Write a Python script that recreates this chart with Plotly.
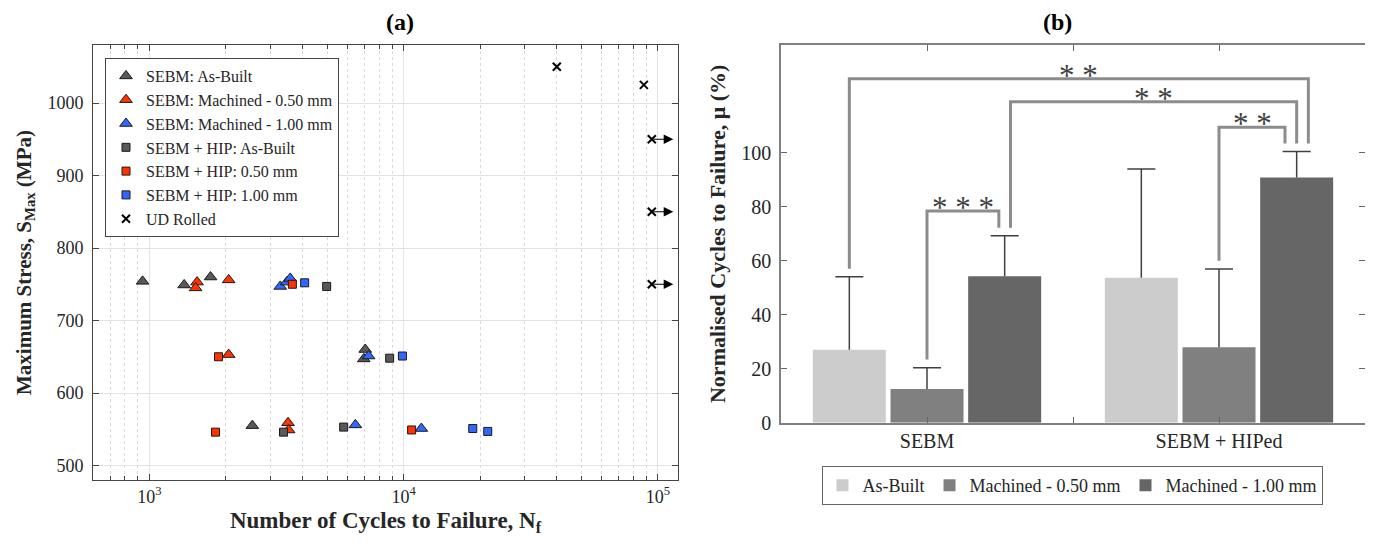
import numpy as np
import plotly.graph_objects as go

# ---------------- Panel (a) data: cycles to failure vs max stress ----------------
sebm_ab_n = [940, 1370, 1740, 7060, 6970, 2540]
sebm_ab_s = [754, 749, 760, 660, 647, 555]
sebm_050_n = [1540, 1520, 2050, 2050, 3510, 3530]
sebm_050_s = [753, 745, 756, 653, 559, 549]
sebm_100_n = [3270, 3470, 3580, 7280, 6460, 11740]
sebm_100_s = [747, 753, 758, 651, 556, 551]
hip_ab_n = [4980, 8810, 3370, 5810]
hip_ab_s = [747, 648, 546, 553]
hip_050_n = [3650, 1870, 1820, 10750]
hip_050_s = [750, 650, 546, 549]
hip_100_n = [4080, 9890, 18700, 21420]
hip_100_s = [752, 651, 551, 547]
ud_n = [40030, 88080, 94650, 94650, 94650]
ud_s = [1050, 1025, 950, 850, 750]
ud_runout = [False, False, True, True, True]
runout_arrow_end = 115000

x_tick_vals = [1e3, 1e4, 1e5]
x_tick_text = ["10<sup>3</sup>", "10<sup>4</sup>", "10<sup>5</sup>"]
y_tick_vals_a = [500, 600, 700, 800, 900, 1000]

# ---------------- Panel (b) data: normalised cycles to failure ----------------
groups = ["SEBM", "SEBM + HIPed"]
conditions = ["As-Built", "Machined - 0.50 mm", "Machined - 1.00 mm"]
means = {
    "As-Built": [27.0, 53.7],
    "Machined - 0.50 mm": [12.5, 28.0],
    "Machined - 1.00 mm": [54.3, 90.9],
}
err_up = {
    "As-Built": [27.1, 40.3],
    "Machined - 0.50 mm": [7.9, 29.0],
    "Machined - 1.00 mm": [15.0, 9.6],
}
bar_colors = ["#cccccc", "#808080", "#666666"]
# significance brackets: (group, cond, x-offset) -> (group, cond, x-offset), line height, label
brackets = [
    ((0, 0, 0.0), (1, 2, 0.04), 127.5, "* *"),
    ((0, 2, 0.02), (1, 2, 0.0), 119.0, "* *"),
    ((0, 1, 0.0), (0, 2, -0.02), 78.5, "* * *"),
    ((1, 1, 0.0), (1, 2, -0.04), 109.5, "* *"),
]

FONT = "Liberation Serif"
AX = "#262626"

# page offset (body margin) compensation
OFF = 8
W, H = 1373 - OFF, 551 - OFF

def px(v):
    return (v - OFF) / W

def py(v):
    return 1 - (v - OFF) / H

fig = go.Figure()

def add_a(name, n, s, symbol, color, size, lw=1, lcolor="#1a1a1a"):
    fig.add_trace(go.Scatter(
        x=n, y=s, mode="markers", name=name,
        marker=dict(symbol=symbol, color=color, size=size,
                    line=dict(color=lcolor, width=lw)),
        xaxis="x", yaxis="y", legend="legend"))

add_a("SEBM: As-Built", sebm_ab_n, sebm_ab_s, "triangle-up", "#595959", 11)
add_a("SEBM: Machined - 0.50 mm", sebm_050_n, sebm_050_s, "triangle-up", "#ff3300", 11)
add_a("SEBM: Machined - 1.00 mm", sebm_100_n, sebm_100_s, "triangle-up", "#3366ff", 11)
add_a("SEBM + HIP: As-Built", hip_ab_n, hip_ab_s, "square", "#595959", 8)
add_a("SEBM + HIP: 0.50 mm", hip_050_n, hip_050_s, "square", "#ff3300", 8)
add_a("SEBM + HIP: 1.00 mm", hip_100_n, hip_100_s, "square", "#3366ff", 8)
fig.add_trace(go.Scatter(
    x=ud_n, y=ud_s, mode="markers", name="UD Rolled",
    marker=dict(symbol="x-thin", size=8, color="black", line=dict(color="black", width=2)),
    xaxis="x", yaxis="y", legend="legend"))

annotations = []
for n, s, ro in zip(ud_n, ud_s, ud_runout):
    if ro:
        annotations.append(dict(
            x=np.log10(runout_arrow_end), y=s, xref="x", yref="y",
            ax=np.log10(n), ay=s, axref="x", ayref="y",
            showarrow=True, arrowhead=2, arrowsize=1.6, arrowwidth=1.2,
            arrowcolor="black", text=""))

# ---------------- Panel (b) traces ----------------
spacing = 0.266
bar_w = 0.25
gx = np.arange(1, len(groups) + 1)

def bar_x(g, k, off=0.0):
    return gx[g] + (k - 1) * spacing + off

for k, cond in enumerate(conditions):
    xs = [bar_x(g, k) for g in range(len(groups))]
    fig.add_trace(go.Bar(
        x=xs, y=means[cond], width=bar_w, name=cond,
        marker=dict(color=bar_colors[k], line=dict(width=0)),
        xaxis="x2", yaxis="y2", legend="legend2"))

# error bars (upper only)
cap = 0.048
ex, ey = [], []
for k, cond in enumerate(conditions):
    for g in range(len(groups)):
        xc = bar_x(g, k)
        top = means[cond][g] + err_up[cond][g]
        ex += [xc, xc, None, xc - cap, xc + cap, None]
        ey += [means[cond][g], top, None, top, top, None]
fig.add_trace(go.Scatter(x=ex, y=ey, mode="lines", line=dict(color="#404040", width=1.5),
                         showlegend=False, xaxis="x2", yaxis="y2", hoverinfo="skip"))

# brackets
gap = 3.0
bx, by = [], []
for (g0, k0, o0), (g1, k1, o1), h, lab in brackets:
    x0 = bar_x(g0, k0, o0)
    x1 = bar_x(g1, k1, o1)
    y0 = means[conditions[k0]][g0] + err_up[conditions[k0]][g0] + gap
    y1 = means[conditions[k1]][g1] + err_up[conditions[k1]][g1] + gap
    bx += [x0, x0, x1, x1, None]
    by += [y0, h, h, y1, None]
    annotations.append(dict(x=(x0 + x1) / 2, y=h, xref="x2", yref="y2", text=lab,
                            showarrow=False, yanchor="bottom", yshift=-16,
                            font=dict(family=FONT, size=31, color="#404040")))
fig.add_trace(go.Scatter(x=bx, y=by, mode="lines", line=dict(color="#8c8c8c", width=3),
                         showlegend=False, xaxis="x2", yaxis="y2", hoverinfo="skip"))

# titles
annotations.append(dict(text="<b>(a)</b>", x=px(385), y=1, xref="paper", yref="paper",
                        yanchor="top", showarrow=False, borderpad=0,
                        font=dict(family=FONT, size=24, color="black")))
annotations.append(dict(text="<b>(b)</b>", x=px(1073), y=1, xref="paper", yref="paper",
                        yanchor="top", showarrow=False, borderpad=0,
                        font=dict(family=FONT, size=24, color="black")))

fig.update_layout(
    width=W, height=H,
    margin=dict(l=0, r=0, t=0, b=0, pad=0),
    paper_bgcolor="white", plot_bgcolor="white",
    font=dict(family=FONT, size=18, color=AX),
    showlegend=True,
    annotations=annotations,
    xaxis=dict(
        type="log", domain=[px(93), px(678)], range=[np.log10(600), np.log10(120000)],
        tickvals=x_tick_vals, ticktext=x_tick_text, ticks="inside", ticklen=6,
        showline=True, linecolor="#444", linewidth=1, mirror="ticks",
        showgrid=True, gridcolor="#e3e3e3", gridwidth=1, zeroline=False,
        minor=dict(ticks="inside", ticklen=4, dtick="D1", showgrid=True,
                   gridcolor="#d9d9d9", griddash="dot", tickcolor="#444"),
        tickfont=dict(size=18),
        title=dict(text="<b>Number of Cycles to Failure, N<sub>f</sub></b>",
                   font=dict(size=23, color=AX), standoff=6),
        anchor="y", automargin=False,
    ),
    yaxis=dict(
        domain=[py(480), py(45)], range=[480, 1080],
        tickvals=y_tick_vals_a, ticks="inside", ticklen=6, ticklabelstandoff=5,
        showline=True, linecolor="#444", linewidth=1, mirror="ticks",
        showgrid=True, gridcolor="#e3e3e3", zeroline=False,
        tickfont=dict(size=18),
        title=dict(text="<b>Maximum Stress, S<sub>Max</sub> (MPa)</b>",
                   font=dict(size=21, color=AX), standoff=10),
        anchor="x", automargin=False,
    ),
    xaxis2=dict(
        domain=[px(781), px(1365)], range=[0.5, 2.5],
        tickvals=[1, 1.5, 2], ticktext=["SEBM", "", "SEBM + HIPed"],
        ticks="inside", ticklen=6, tickcolor="#666",
        showline=True, linecolor="#808080", linewidth=1.5, mirror="ticks",
        showgrid=False, zeroline=False, tickfont=dict(size=20),
        anchor="y2", automargin=False,
    ),
    yaxis2=dict(
        domain=[py(422.7), py(45)], range=[0, 140],
        tickvals=[0, 20, 40, 60, 80, 100], ticks="inside", ticklen=6, tickcolor="#666",
        ticklabelstandoff=4,
        showline=True, linecolor="#808080", linewidth=1.5, mirror="ticks",
        showgrid=False, zeroline=False, tickfont=dict(size=20),
        title=dict(text="<b>Normalised Cycles to Failure, μ (%)</b>",
                   font=dict(size=22, color=AX), standoff=10),
        anchor="x2", automargin=False,
    ),
    legend=dict(
        x=px(105), y=py(58), xanchor="left", yanchor="top",
        bgcolor="white", bordercolor="#444", borderwidth=1,
        font=dict(family=FONT, size=16, color=AX), tracegroupgap=0,
    ),
    legend2=dict(
        orientation="h", x=px(1072), y=py(466), xanchor="center", yanchor="top",
        bgcolor="white", bordercolor="#666", borderwidth=1,
        font=dict(family=FONT, size=18, color=AX),
    ),
    barmode="overlay",
)

fig.write_html("out.html")
